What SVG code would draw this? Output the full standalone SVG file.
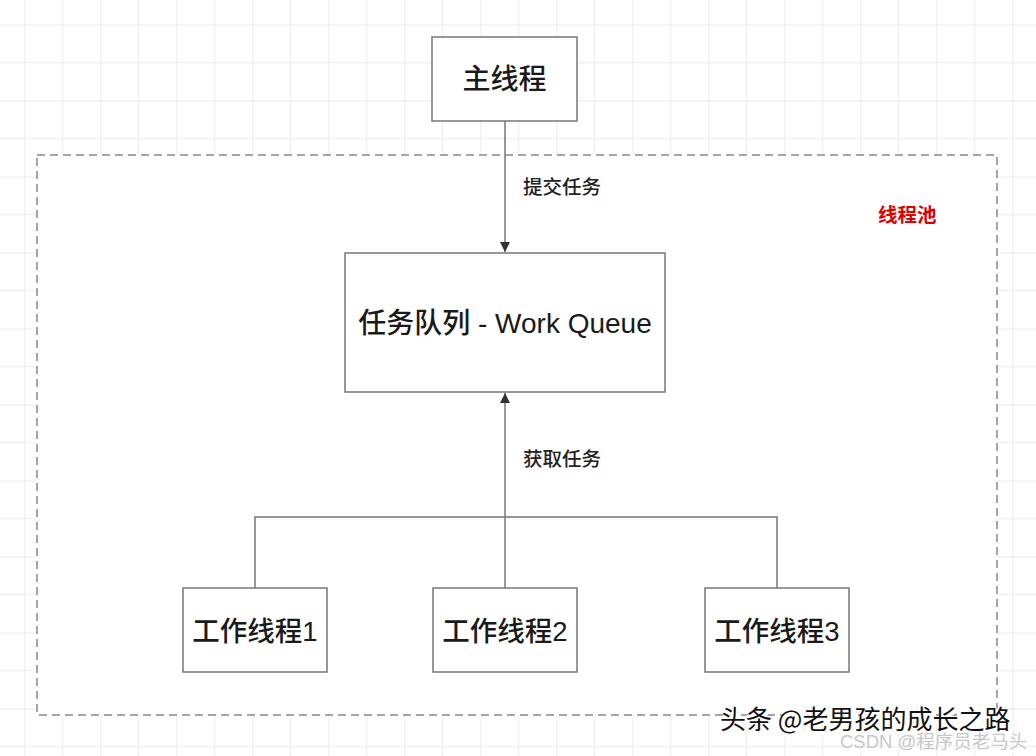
<svg xmlns="http://www.w3.org/2000/svg" width="1036" height="756" viewBox="0 0 1036 756">
  <defs>
    <pattern id="grid" x="24.5" y="24.5" width="76" height="76" patternUnits="userSpaceOnUse">
      <path d="M0 0H76M0 0V76" stroke="#d6d6d6" stroke-width="1" fill="none"/>
      <path d="M38 0V76M0 38H76" stroke="#e8e8e8" stroke-width="1" fill="none"/>
    </pattern>
    <marker id="arrow" viewBox="0 0 10 10" refX="10" refY="5" markerWidth="10" markerHeight="10" markerUnits="userSpaceOnUse" orient="auto">
      <path d="M0 0L10 5L0 10Z" fill="#333"/>
    </marker>
    <style>
      .box { fill: #fff; stroke: #777; stroke-width: 1.5; }
      .lbl { font-family: "Liberation Sans", "Noto Sans CJK SC", sans-serif; fill: #1a1a1a; text-anchor: middle; dominant-baseline: central; font-weight: 500; }
      .edge { font-family: "Noto Sans CJK SC", sans-serif; font-size: 19.5px; fill: #222; font-weight: 500; }
      .link { stroke: #777; stroke-width: 1.5; fill: none; }
    </style>
  </defs>

  <!-- canvas grid -->
  <rect width="1036" height="756" fill="#fff"/>
  <rect width="1036" height="756" fill="url(#grid)"/>

  <!-- thread pool container -->
  <g id="pool">
    <rect x="37" y="155" width="960" height="560" fill="#fff" stroke="#888" stroke-width="1.5" stroke-dasharray="8 5"/>
    <text x="878" y="222" font-family="Noto Sans CJK SC, sans-serif" font-size="19.5" font-weight="700" fill="#e00000">线程池</text>
  </g>

  <!-- connectors -->
  <g id="connectors">
    <line class="link" x1="505" y1="121" x2="505" y2="252" marker-end="url(#arrow)" stroke="#555"/>
    <text class="edge" x="523" y="194">提交任务</text>
    <path class="link" d="M255 588V517H777V588"/>
    <line class="link" x1="505" y1="588" x2="505" y2="393" marker-end="url(#arrow)" stroke="#444"/>
    <text class="edge" x="523" y="466">获取任务</text>
  </g>

  <g id="main-thread">
    <rect class="box" x="432" y="37" width="145" height="84"/>
    <text class="lbl" x="504.5" y="79" font-size="28">主线程</text>
  </g>

  <g id="work-queue">
    <rect class="box" x="345" y="253" width="320" height="139"/>
    <text class="lbl" x="505" y="323" font-size="28">任务队列 - Work Queue</text>
  </g>

  <g id="worker-1">
    <rect class="box" x="183" y="588" width="144" height="84"/>
    <text class="lbl" x="255" y="631" font-size="27.5">工作线程1</text>
  </g>

  <g id="worker-2">
    <rect class="box" x="433" y="588" width="144" height="84"/>
    <text class="lbl" x="505" y="631" font-size="27.5">工作线程2</text>
  </g>

  <g id="worker-3">
    <rect class="box" x="705" y="588" width="144" height="84"/>
    <text class="lbl" x="777" y="631" font-size="27.5">工作线程3</text>
  </g>

  <!-- watermarks -->
  <g id="watermarks">
    <text x="720" y="729" font-family="Noto Sans CJK SC, sans-serif" font-size="26" fill="#fff" stroke="#fff" stroke-width="3" transform="translate(1.5,1.5)">头条 @老男孩的成长之路</text>
    <text x="720" y="729" font-family="Noto Sans CJK SC, sans-serif" font-size="26" fill="#111">头条 @老男孩的成长之路</text>
    <text x="840" y="748" font-family="Liberation Sans, Noto Sans CJK SC, sans-serif" font-size="18.5" fill="#c8c8c8">CSDN @程序员老马头</text>
  </g>
</svg>
